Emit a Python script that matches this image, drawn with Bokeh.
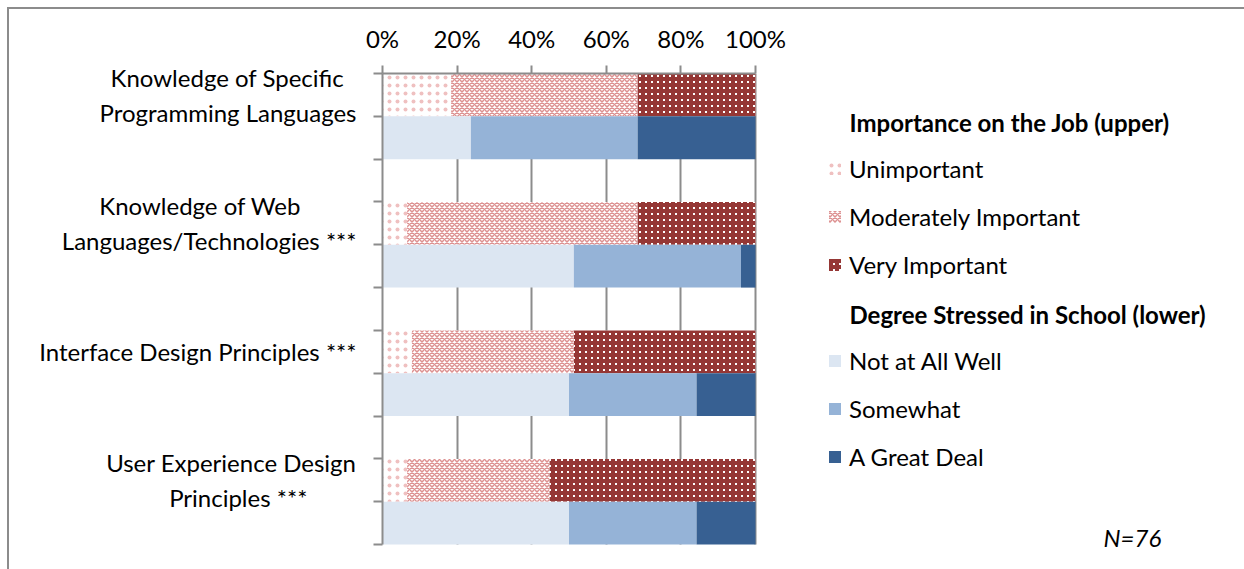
from bokeh.plotting import figure
from bokeh.layouts import column
from bokeh.models import (Range1d, FixedTicker, PrintfTickFormatter, Legend,
                          LegendItem, Label, ColumnDataSource, BoxAnnotation)
from bokeh.embed import file_html
from bokeh.resources import INLINE

# ---- data -------------------------------------------------------------
categories = [
    ["Knowledge of Specific", "Programming Languages"],
    ["Knowledge of Web", "Languages/Technologies ***"],
    ["Interface Design Principles ***"],
    ["User Experience Design", "Principles ***"],
]

job_title = "Importance on the Job (upper)"
job_labels = ["Unimportant", "Moderately Important", "Very Important"]
unimportant = [18.4, 6.6, 7.9, 6.6]
moderately_important = [50.0, 61.8, 43.4, 38.2]
very_important = [31.6, 31.6, 48.7, 55.2]

school_title = "Degree Stressed in School (lower)"
school_labels = ["Not at All Well", "Somewhat", "A Great Deal"]
not_at_all_well = [23.7, 51.3, 50.0, 50.0]
somewhat = [44.7, 44.8, 34.2, 34.2]
a_great_deal = [31.6, 3.9, 15.8, 15.8]

pct_ticks = [0, 20, 40, 60, 80, 100]
sample_note = "N=76"

# ---- styling ------------------------------------------------------------
FONT = "Lato"
FONT_PX = 24
FONT_SIZE = f"{FONT_PX}px"
GRAY = "#8c8c8c"
NBSP_W = 0.257 * FONT_PX          # advance of a no-break space

# right-hand indents (px) per label line, so wrapped lines sit centred
line_pads = [[15, 0], [53, 0], [0], [0, 50]]

upper_styles = [
    dict(fill_color="white", hatch_pattern="dot", hatch_color="#efc0c0",
         hatch_scale=8, hatch_weight=1.0),
    dict(fill_color="white", hatch_pattern="x", hatch_color="#dd9191",
         hatch_scale=5, hatch_weight=1.5),
    dict(fill_color="white", hatch_pattern="+", hatch_color="#953735",
         hatch_scale=6, hatch_weight=4),
]
lower_colors = ["#dce6f2", "#95b3d7", "#376092"]

# ---- layout (px) --------------------------------------------------------
W, H = 1235, 560
LEFT, TOP = 373, 64            # frame offsets inside the canvas
SLOT_PX = 42.82                # height of one bar slot
PCT_PX = 3.73                  # width of one percent

n_slots = 3 * len(categories) - 1   # upper bar, lower bar, gap per category
frame_w = W - LEFT
frame_h = H - TOP

p = figure(width=W, height=H,
           x_range=Range1d(0, frame_w / PCT_PX),
           y_range=Range1d(frame_h / SLOT_PX, 0),
           x_axis_location="above",
           output_backend="svg", toolbar_location=None,
           min_border_left=LEFT, min_border_right=0,
           min_border_top=TOP, min_border_bottom=0,
           outline_line_color=None, background_fill_color="white",
           border_fill_color="white")


def stacked(series_list, row_offset):
    """Column sources with left/right edges of each stacked segment."""
    out = []
    base = [0.0] * len(categories)
    for values in series_list:
        right = [b + v for b, v in zip(base, values)]
        ys = [3 * i + row_offset + 0.5 for i in range(len(categories))]
        out.append(ColumnDataSource(dict(y=ys, left=list(base), right=right)))
        base = right
    return out


upper_sources = stacked([unimportant, moderately_important, very_important], 0)
lower_sources = stacked([not_at_all_well, somewhat, a_great_deal], 1)

upper_renderers = []
for src, style in zip(upper_sources, upper_styles):
    r = p.hbar(y="y", left="left", right="right", height=1.0, source=src,
               line_color=None, **style)
    upper_renderers.append(r)

lower_renderers = []
for src, color in zip(lower_sources, lower_colors):
    r = p.hbar(y="y", left="left", right="right", height=1.0, source=src,
               fill_color=color, line_color=None)
    lower_renderers.append(r)

# keep the vertical grid from running below the last bar
p.add_layout(BoxAnnotation(top=n_slots, fill_color="white", fill_alpha=1,
                           line_color=None, level="underlay"))

# ---- axes -----------------------------------------------------------------
xa = p.xaxis[0]
xa.ticker = FixedTicker(ticks=pct_ticks)
xa.bounds = (pct_ticks[0], pct_ticks[-1])
xa.formatter = PrintfTickFormatter(format="%d%%")
xa.axis_line_color = GRAY
xa.axis_line_width = 2
xa.major_tick_line_color = GRAY
xa.major_tick_line_width = 2
xa.major_tick_in = 0
xa.major_tick_out = 8
xa.minor_tick_line_color = None
xa.major_label_standoff = 13
xa.major_label_text_font = FONT
xa.major_label_text_font_size = FONT_SIZE
xa.major_label_text_color = "black"


def tick_text(lines, pads):
    return "\n".join(line + "\u00a0" * round(pad / NBSP_W)
                     for line, pad in zip(lines, pads))


label_pos = [3 * i + 0.5 for i in range(len(categories))]
ya = p.yaxis[0]
ya.ticker = FixedTicker(ticks=label_pos, minor_ticks=list(range(n_slots + 1)))
ya.bounds = (0, n_slots)
ya.major_label_overrides = {pos: tick_text(lines, pads) for pos, lines, pads
                            in zip(label_pos, categories, line_pads)}
ya.axis_line_color = GRAY
ya.axis_line_width = 2
ya.major_tick_line_color = None
ya.major_tick_in = 0
ya.major_tick_out = 0
ya.minor_tick_line_color = GRAY
ya.minor_tick_line_width = 2
ya.minor_tick_in = 0
ya.minor_tick_out = 9
ya.major_label_standoff = 17
ya.major_label_text_font = FONT
ya.major_label_text_font_size = FONT_SIZE
ya.major_label_text_color = "black"

p.ygrid.visible = False
p.xgrid.ticker = FixedTicker(ticks=pct_ticks)
p.xgrid.grid_line_color = GRAY
p.xgrid.grid_line_width = 2

# ---- legend -------------------------------------------------------------
ROW_H, ROW_GAP = 30, 18
LEG_X = 445                      # swatch left, from frame left
FIRST_ROW_Y = 120 - TOP - 9      # centre of the first legend row, from frame top
header_slot = p.hbar(y=[], right=[], height=1.0, fill_alpha=0, line_alpha=0)
items = [LegendItem(label="\u00a0", renderers=[header_slot])]
items += [LegendItem(label=lab, renderers=[r]) for lab, r in zip(job_labels, upper_renderers)]
items += [LegendItem(label="\u00a0", renderers=[header_slot])]
items += [LegendItem(label=lab, renderers=[r]) for lab, r in zip(school_labels, lower_renderers)]

leg_h = len(items) * ROW_H + (len(items) - 1) * ROW_GAP
leg_bottom = frame_h - (FIRST_ROW_Y - ROW_H / 2 + leg_h)
legend = Legend(items=items, location=(LEG_X, leg_bottom), orientation="vertical",
                glyph_width=15, glyph_height=15, label_standoff=7,
                label_height=ROW_H, spacing=ROW_GAP, padding=0, margin=0,
                border_line_color=None, background_fill_alpha=0,
                label_text_font=FONT, label_text_font_size=FONT_SIZE,
                label_text_color="black")
p.add_layout(legend)

for text, row in [(job_title, 0), (school_title, 4)]:
    p.add_layout(Label(x=LEG_X + 22, y=frame_h - (FIRST_ROW_Y + 2 + row * (ROW_H + ROW_GAP)),
                       x_units="screen", y_units="screen",
                       text=text, text_font=FONT, text_font_size=FONT_SIZE,
                       text_font_style="bold", text_baseline="middle",
                       text_color="black"))

p.add_layout(Label(x=721, y=frame_h - (537 - TOP - 9), x_units="screen", y_units="screen",
                   text=sample_note, text_font=FONT, text_font_size=FONT_SIZE,
                   text_font_style="italic", text_baseline="middle",
                   text_color="black"))

# chart frame: grey rule along the top and left edges
root = column(p, styles={"margin-left": "7px", "margin-top": "7px",
                         "border-left": f"2px solid {GRAY}",
                         "border-top": f"2px solid {GRAY}"})

open("out.html", "w").write(file_html(root, INLINE))
